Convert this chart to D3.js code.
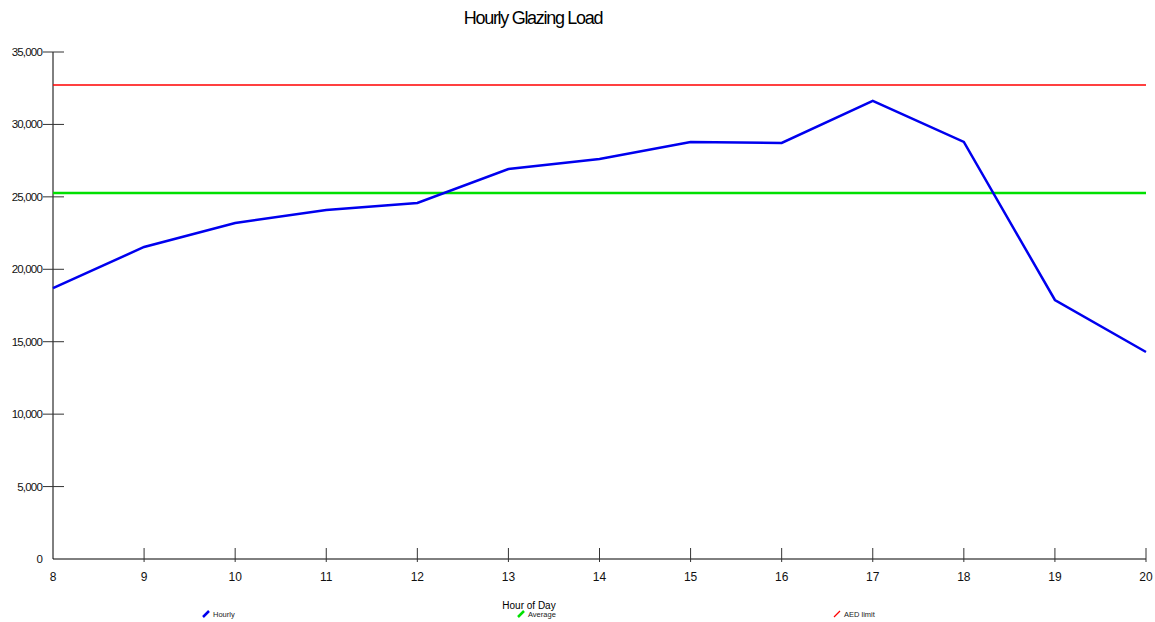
<!DOCTYPE html>
<html><head><meta charset="utf-8">
<script src="https://cdn.jsdelivr.net/npm/d3@7"></script>
<style>body{margin:0;background:#fff;} text{font-family:"Liberation Sans",Arial,sans-serif;}</style>
</head><body><svg id="c" width="1155" height="622"></svg>
<script>
const hours = [8,9,10,11,12,13,14,15,16,17,18,19,20];
const hourly = [18700,21540,23200,24090,24580,26920,27610,28790,28720,31620,28790,17880,14290];
const averageValue = 25260;
const aedLimit = 32720;
const yTicks = [0,5000,10000,15000,20000,25000,30000,35000];
const legendLabels = ["Hourly","Average","AED limit"];
const legendColors = ["#0000ee","#00e000","#ff0000"];

const svg = d3.select("#c");
const x = d3.scaleLinear().domain([8,20]).range([53,1146]);
const y = d3.scaleLinear().domain([0,35000]).range([559,52]);

svg.append("text").attr("x",533).attr("y",24).attr("text-anchor","middle")
  .attr("font-size",18).attr("letter-spacing","-1.3px").text("Hourly Glazing Load");

// y axis
svg.append("line").attr("x1",53).attr("x2",53).attr("y1",y(35000)).attr("y2",y(0)).attr("stroke","#000");
yTicks.forEach(t=>{
  if(t>0) svg.append("line").attr("x1",43).attr("x2",64).attr("y1",y(t)).attr("y2",y(t)).attr("stroke","#333");
  svg.append("text").attr("x",t===0?42:42).attr("y",y(t)+4).attr("text-anchor","end")
    .attr("font-size",11.5).attr("letter-spacing","-0.8px").attr("fill","#111")
    .text(d3.format(",")(t));
});
// x axis
svg.append("line").attr("x1",53).attr("x2",1146).attr("y1",559).attr("y2",559).attr("stroke","#000");
hours.forEach(h=>{
  if(h>8) svg.append("line").attr("x1",x(h)).attr("x2",x(h)).attr("y1",548).attr("y2",562).attr("stroke","#333");
  svg.append("text").attr("x",x(h)).attr("y",581).attr("text-anchor","middle")
    .attr("font-size",12).attr("fill","#111").text(h);
});
svg.append("text").attr("x",529).attr("y",609).attr("text-anchor","middle").attr("font-size",10).text("Hour of Day");

// lines
svg.append("line").attr("x1",x(8)).attr("x2",x(20)).attr("y1",y(aedLimit)).attr("y2",y(aedLimit))
  .attr("stroke","#ff0000").attr("stroke-width",1.5);
svg.append("line").attr("x1",x(8)).attr("x2",x(20)).attr("y1",y(averageValue)).attr("y2",y(averageValue))
  .attr("stroke","#00e000").attr("stroke-width",2.5);
const line = d3.line().x((d,i)=>x(hours[i])).y(d=>y(d));
svg.append("path").datum(hourly).attr("d",line).attr("fill","none")
  .attr("stroke","#0000ee").attr("stroke-width",2.5).attr("stroke-linejoin","miter");

// legend
const legX = [203,518,834];
legendLabels.forEach((l,i)=>{
  const lx = legX[i], ly = 614;
  svg.append("line").attr("x1",lx).attr("y1",ly+3).attr("x2",lx+6).attr("y2",ly-3)
    .attr("stroke",legendColors[i]).attr("stroke-width",i===2?1.2:2.5);
  svg.append("text").attr("x",lx+10).attr("y",ly+3).attr("font-size",7.5).attr("fill","#222").text(l);
});
</script></body></html>
